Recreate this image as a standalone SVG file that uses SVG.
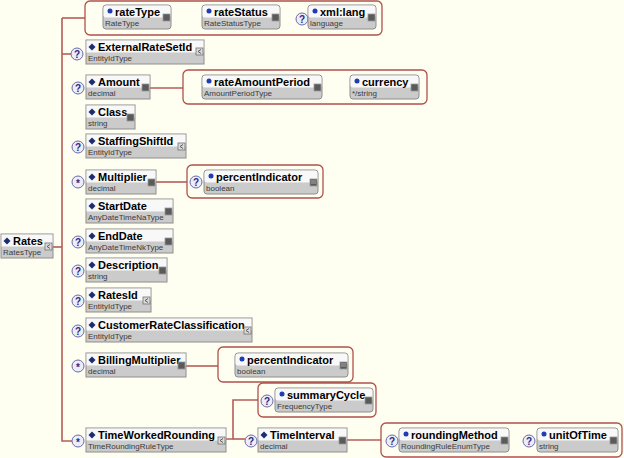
<svg xmlns="http://www.w3.org/2000/svg" width="624" height="458" viewBox="0 0 624 458">
<style>
.bg{fill:#FEFEF1}
.nb{fill:#CBCBCB;stroke:#8E8E8E;stroke-width:1}
.nt{fill:#F8F8F8}
.nm{font-family:"Liberation Sans",Arial,sans-serif;font-weight:bold;font-size:11px;fill:#000}
.ty{font-family:"Liberation Sans",Arial,sans-serif;font-size:8px;fill:#3A3A3A}
.el{fill:#1C2C70}
.at{fill:#1E3CB4}
.grp{fill:none;stroke:#B0504C;stroke-width:1.3}
.con{stroke:#B65C58;stroke-width:1.6;fill:none}
.oc{fill:#EDEDFA;stroke:#6A6AA8;stroke-width:1}
.ot{font-family:"Liberation Sans",Arial,sans-serif;font-weight:bold;font-size:10px;fill:#2A2A80;text-anchor:middle}
.ids{fill:#5A5A5A;stroke:#9A9A9A;stroke-width:0.8}
.idc{fill:#DADADA;stroke:#707070;stroke-width:0.8}
.icl{stroke:#505050;stroke-width:0.9;fill:none}
</style>
<defs>
<polygon id="dia" class="el" points="0,-3.5 3.5,0 0,3.5 -3.5,0"/>
<g id="iconS"><rect class="ids" x="0" y="0" width="7" height="7"/></g>
<g id="iconC"><rect class="idc" x="0" y="0" width="7" height="7"/><path class="icl" d="M5,1.5 L2,3.5 L5,5.5"/></g>
<g id="iconB"><rect class="ids" x="0" y="0" width="7" height="7"/><path d="M1,2 H6 M1,4 H6" stroke="#CCCCCC" stroke-width="0.7"/></g>
<g id="oq"><circle class="oc" r="6"/><text class="ot" y="3.6">?</text></g>
<g id="os"><circle class="oc" r="6"/><text class="ot" y="4.5">*</text></g>
</defs>
<rect class="bg" x="0" y="0" width="624" height="458"/>

<g id="connectors">
<path class="con" d="M53,247 H62"/>
<path class="con" d="M62,18 V441 H72"/>
<path class="con" d="M62,18 H85"/>
<path class="con" d="M62,54 H71"/>
<path class="con" d="M150,88 H183"/>
<path class="con" d="M156,182 H187"/>
<path class="con" d="M186,366 H218"/>
<path class="con" d="M226,439 H233 V400 H258"/>
<path class="con" d="M233,439 H245"/>
<path class="con" d="M347,440 H381"/>
</g>

<g id="groups">
<rect class="grp" x="85" y="1" width="297" height="34" rx="5"/>
<rect class="grp" x="183" y="70" width="244" height="34" rx="5"/>
<rect class="grp" x="187" y="165" width="136" height="33" rx="5"/>
<rect class="grp" x="218" y="347" width="135" height="35" rx="5"/>
<rect class="grp" x="258" y="383" width="118" height="34" rx="5"/>
<rect class="grp" x="381" y="423" width="241" height="34" rx="5"/>
</g>

<g id="Rates">
<rect class="nb" x="1" y="234" width="52" height="24"/><rect class="nt" x="1.5" y="234.5" width="51" height="12"/>
<use href="#dia" x="7" y="241"/><text class="nm" x="13" y="245">Rates</text><text class="ty" x="3" y="255">RatesType</text>
<use href="#iconC" x="45" y="243"/>
</g>

<g id="rateType">
<rect class="nb" x="103" y="5" width="68" height="24" rx="3"/><rect class="nt" x="103.5" y="5.5" width="67" height="12" rx="2.5"/>
<circle class="at" cx="110" cy="11" r="2.5"/><text class="nm" x="115" y="16">rateType</text><text class="ty" x="105" y="26">RateType</text>
<use href="#iconS" x="163" y="14"/>
</g>
<g id="rateStatus">
<rect class="nb" x="202" y="5" width="78" height="24" rx="3"/><rect class="nt" x="202.5" y="5.5" width="77" height="12" rx="2.5"/>
<circle class="at" cx="209" cy="11" r="2.5"/><text class="nm" x="214" y="16">rateStatus</text><text class="ty" x="204" y="26">RateStatusType</text>
<use href="#iconS" x="272" y="14"/>
</g>
<g id="xmllang">
<use href="#oq" x="302" y="19"/>
<rect class="nb" x="308" y="5" width="68" height="24" rx="3"/><rect class="nt" x="308.5" y="5.5" width="67" height="12" rx="2.5"/>
<circle class="at" cx="315" cy="11" r="2.5"/><text class="nm" x="320" y="16">xml:lang</text><text class="ty" x="310" y="26">language</text>
<use href="#iconS" x="368" y="14"/>
</g>

<g id="ExternalRateSetId">
<use href="#oq" x="77" y="54"/>
<rect class="nb" x="86" y="40" width="118" height="24"/><rect class="nt" x="86.5" y="40.5" width="117" height="12"/>
<use href="#dia" x="92" y="47"/><text class="nm" x="98" y="51">ExternalRateSetId</text><text class="ty" x="88" y="61">EntityIdType</text>
<use href="#iconC" x="196" y="48"/>
</g>

<g id="Amount">
<use href="#oq" x="78" y="88"/>
<rect class="nb" x="86" y="75" width="64" height="24"/><rect class="nt" x="86.5" y="75.5" width="63" height="12"/>
<use href="#dia" x="92" y="82"/><text class="nm" x="98" y="86">Amount</text><text class="ty" x="88" y="96">decimal</text>
<use href="#iconS" x="142" y="84"/>
</g>
<g id="rateAmountPeriod">
<rect class="nb" x="202" y="75" width="120" height="24" rx="3"/><rect class="nt" x="202.5" y="75.5" width="119" height="12" rx="2.5"/>
<circle class="at" cx="209" cy="81" r="2.5"/><text class="nm" x="214" y="86">rateAmountPeriod</text><text class="ty" x="204" y="96">AmountPeriodType</text>
<use href="#iconS" x="314" y="84"/>
</g>
<g id="currency">
<rect class="nb" x="350" y="75" width="69" height="24" rx="3"/><rect class="nt" x="350.5" y="75.5" width="68" height="12" rx="2.5"/>
<circle class="at" cx="357" cy="81" r="2.5"/><text class="nm" x="362" y="86">currency</text><text class="ty" x="352" y="96">*/string</text>
<use href="#iconS" x="411" y="84"/>
</g>

<g id="Class">
<rect class="nb" x="86" y="105" width="49" height="24"/><rect class="nt" x="86.5" y="105.5" width="48" height="12"/>
<use href="#dia" x="92" y="112"/><text class="nm" x="98" y="116">Class</text><text class="ty" x="88" y="126">string</text>
<use href="#iconS" x="127" y="114"/>
</g>

<g id="StaffingShiftId">
<use href="#oq" x="78" y="147"/>
<rect class="nb" x="86" y="134" width="100" height="24"/><rect class="nt" x="86.5" y="134.5" width="99" height="12"/>
<use href="#dia" x="92" y="141"/><text class="nm" x="98" y="145">StaffingShiftId</text><text class="ty" x="88" y="155">EntityIdType</text>
<use href="#iconC" x="178" y="143"/>
</g>

<g id="Multiplier">
<use href="#os" x="78" y="182"/>
<rect class="nb" x="86" y="170" width="70" height="24"/><rect class="nt" x="86.5" y="170.5" width="69" height="12"/>
<use href="#dia" x="92" y="177"/><text class="nm" x="98" y="181">Multiplier</text><text class="ty" x="88" y="191">decimal</text>
<use href="#iconS" x="148" y="179"/>
</g>
<g id="percentIndicator1">
<use href="#oq" x="196" y="182"/>
<rect class="nb" x="204" y="170" width="114" height="24" rx="3"/><rect class="nt" x="204.5" y="170.5" width="113" height="12" rx="2.5"/>
<circle class="at" cx="211" cy="176" r="2.5"/><text class="nm" x="216" y="181">percentIndicator</text><text class="ty" x="206" y="191">boolean</text>
<use href="#iconB" x="310" y="179"/>
</g>

<g id="StartDate">
<rect class="nb" x="86" y="199" width="87" height="24"/><rect class="nt" x="86.5" y="199.5" width="86" height="12"/>
<use href="#dia" x="92" y="206"/><text class="nm" x="98" y="210">StartDate</text><text class="ty" x="88" y="220">AnyDateTimeNaType</text>
<use href="#iconS" x="165" y="208"/>
</g>

<g id="EndDate">
<use href="#oq" x="78" y="242"/>
<rect class="nb" x="86" y="229" width="87" height="24"/><rect class="nt" x="86.5" y="229.5" width="86" height="12"/>
<use href="#dia" x="92" y="236"/><text class="nm" x="98" y="240">EndDate</text><text class="ty" x="88" y="250">AnyDateTimeNkType</text>
<use href="#iconS" x="165" y="238"/>
</g>

<g id="Description">
<use href="#oq" x="78" y="271"/>
<rect class="nb" x="86" y="258" width="81" height="24"/><rect class="nt" x="86.5" y="258.5" width="80" height="12"/>
<use href="#dia" x="92" y="265"/><text class="nm" x="98" y="269">Description</text><text class="ty" x="88" y="279">string</text>
<use href="#iconS" x="159" y="267"/>
</g>

<g id="RatesId">
<use href="#oq" x="78" y="301"/>
<rect class="nb" x="86" y="288" width="65" height="24"/><rect class="nt" x="86.5" y="288.5" width="64" height="12"/>
<use href="#dia" x="92" y="295"/><text class="nm" x="98" y="299">RatesId</text><text class="ty" x="88" y="309">EntityIdType</text>
<use href="#iconC" x="143" y="297"/>
</g>

<g id="CustomerRateClassification">
<use href="#oq" x="78" y="331"/>
<rect class="nb" x="86" y="318" width="166" height="24"/><rect class="nt" x="86.5" y="318.5" width="165" height="12"/>
<use href="#dia" x="92" y="325"/><text class="nm" x="98" y="329">CustomerRateClassification</text><text class="ty" x="88" y="339">EntityIdType</text>
<use href="#iconC" x="244" y="327"/>
</g>

<g id="BillingMultiplier">
<use href="#os" x="78" y="366"/>
<rect class="nb" x="86" y="353" width="100" height="24"/><rect class="nt" x="86.5" y="353.5" width="99" height="12"/>
<use href="#dia" x="92" y="360"/><text class="nm" x="98" y="364">BillingMultiplier</text><text class="ty" x="88" y="374">decimal</text>
<use href="#iconS" x="178" y="362"/>
</g>
<g id="percentIndicator2">
<rect class="nb" x="235" y="353" width="113" height="24" rx="3"/><rect class="nt" x="235.5" y="353.5" width="112" height="12" rx="2.5"/>
<circle class="at" cx="242" cy="359" r="2.5"/><text class="nm" x="247" y="364">percentIndicator</text><text class="ty" x="237" y="374">boolean</text>
<use href="#iconB" x="340" y="362"/>
</g>

<g id="summaryCycle">
<use href="#oq" x="267" y="401"/>
<rect class="nb" x="275" y="388" width="98" height="24" rx="3"/><rect class="nt" x="275.5" y="388.5" width="97" height="12" rx="2.5"/>
<circle class="at" cx="282" cy="394" r="2.5"/><text class="nm" x="287" y="399">summaryCycle</text><text class="ty" x="277" y="409">FrequencyType</text>
<use href="#iconS" x="365" y="397"/>
</g>

<g id="TimeWorkedRounding">
<use href="#os" x="78" y="441"/>
<rect class="nb" x="86" y="428" width="140" height="24"/><rect class="nt" x="86.5" y="428.5" width="139" height="12"/>
<use href="#dia" x="92" y="435"/><text class="nm" x="98" y="439">TimeWorkedRounding</text><text class="ty" x="88" y="449">TimeRoundingRuleType</text>
<use href="#iconC" x="218" y="437"/>
</g>

<g id="TimeInterval">
<use href="#oq" x="251" y="441"/>
<rect class="nb" x="258" y="428" width="89" height="24"/><rect class="nt" x="258.5" y="428.5" width="88" height="12"/>
<use href="#dia" x="264" y="435"/><text class="nm" x="270" y="439">TimeInterval</text><text class="ty" x="260" y="449">decimal</text>
<use href="#iconS" x="339" y="437"/>
</g>
<g id="roundingMethod">
<use href="#oq" x="392" y="441"/>
<rect class="nb" x="399" y="428" width="110" height="24" rx="3"/><rect class="nt" x="399.5" y="428.5" width="109" height="12" rx="2.5"/>
<circle class="at" cx="406" cy="434" r="2.5"/><text class="nm" x="411" y="439">roundingMethod</text><text class="ty" x="401" y="449">RoundingRuleEnumType</text>
<use href="#iconS" x="501" y="437"/>
</g>
<g id="unitOfTime">
<use href="#oq" x="529" y="441"/>
<rect class="nb" x="537" y="428" width="81" height="24" rx="3"/><rect class="nt" x="537.5" y="428.5" width="80" height="12" rx="2.5"/>
<circle class="at" cx="544" cy="434" r="2.5"/><text class="nm" x="549" y="439">unitOfTime</text><text class="ty" x="539" y="449">string</text>
<use href="#iconS" x="610" y="437"/>
</g>
</svg>
